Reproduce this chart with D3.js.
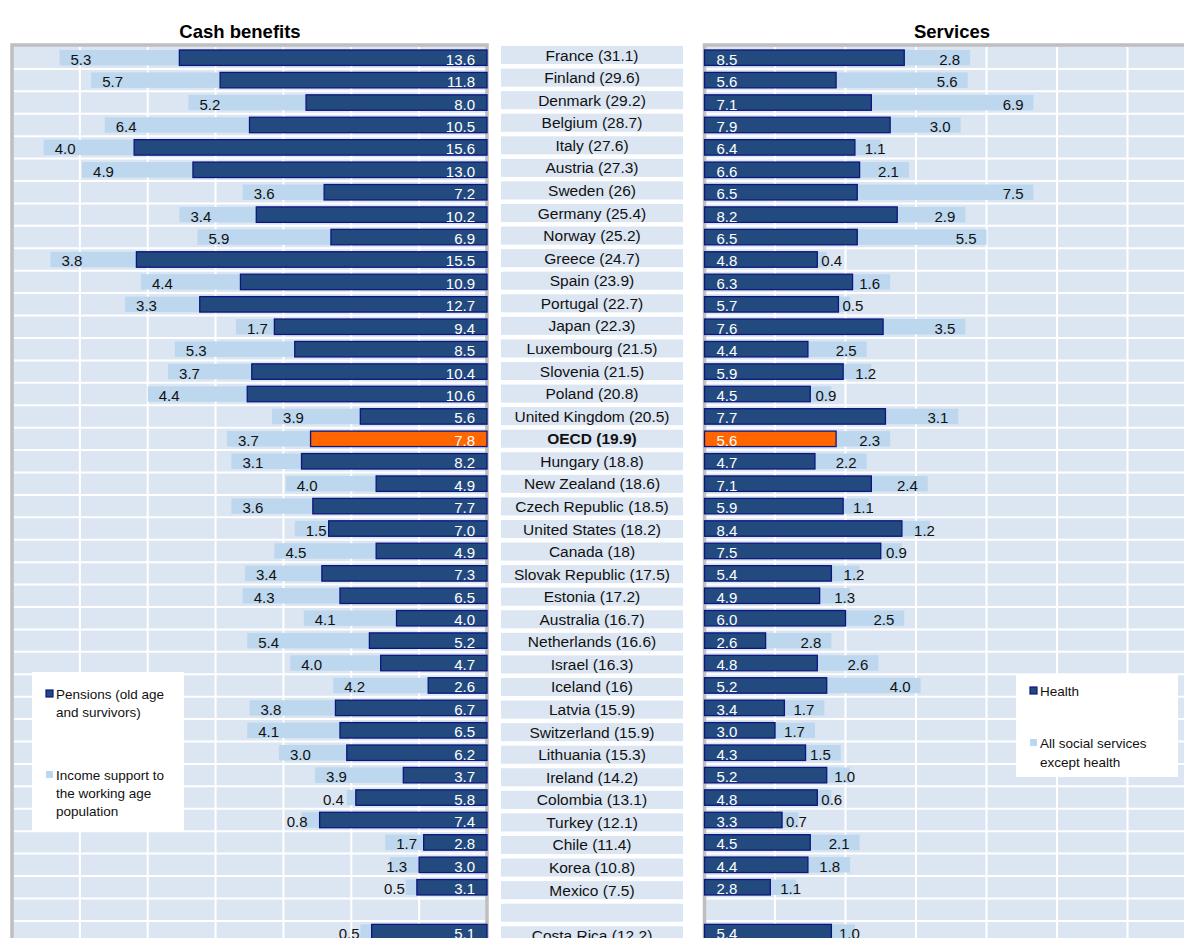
<!DOCTYPE html>
<html>
<head>
<meta charset="UTF-8">
<title>Cash benefits and services</title>
<script src="https://cdn.jsdelivr.net/npm/d3@7/dist/d3.min.js"></script>
<style>
  body { margin: 0; background: #fff; }
  svg text { font-family: "Liberation Sans", Arial, sans-serif; }
</style>
</head>
<body>
<svg id="chart" width="1184" height="938"></svg>
<script>
// categories (the empty one is the gap before Costa Rica)
var categories = ["France (31.1)", "Finland (29.6)", "Denmark (29.2)", "Belgium (28.7)", "Italy (27.6)",
  "Austria (27.3)", "Sweden (26)", "Germany (25.4)", "Norway (25.2)", "Greece (24.7)", "Spain (23.9)",
  "Portugal (22.7)", "Japan (22.3)", "Luxembourg (21.5)", "Slovenia (21.5)", "Poland (20.8)",
  "United Kingdom (20.5)", "OECD (19.9)", "Hungary (18.8)", "New Zealand (18.6)", "Czech Republic (18.5)",
  "United States (18.2)", "Canada (18)", "Slovak Republic (17.5)", "Estonia (17.2)", "Australia (16.7)",
  "Netherlands (16.6)", "Israel (16.3)", "Iceland (16)", "Latvia (15.9)", "Switzerland (15.9)",
  "Lithuania (15.3)", "Ireland (14.2)", "Colombia (13.1)", "Turkey (12.1)", "Chile (11.4)", "Korea (10.8)",
  "Mexico (7.5)", "", "Costa Rica (12.2)"];

// cash benefits
var pensions = [13.6, 11.8, 8.0, 10.5, 15.6, 13.0, 7.2, 10.2, 6.9, 15.5, 10.9, 12.7, 9.4, 8.5, 10.4, 10.6,
  5.6, 7.8, 8.2, 4.9, 7.7, 7.0, 4.9, 7.3, 6.5, 4.0, 5.2, 4.7, 2.6, 6.7, 6.5, 6.2, 3.7, 5.8, 7.4, 2.8, 3.0, 3.1, null, 5.1];
var incomeSupport = [5.3, 5.7, 5.2, 6.4, 4.0, 4.9, 3.6, 3.4, 5.9, 3.8, 4.4, 3.3, 1.7, 5.3, 3.7, 4.4,
  3.9, 3.7, 3.1, 4.0, 3.6, 1.5, 4.5, 3.4, 4.3, 4.1, 5.4, 4.0, 4.2, 3.8, 4.1, 3.0, 3.9, 0.4, 0.8, 1.7, 1.3, 0.5, null, 0.5];

// services
var health = [8.5, 5.6, 7.1, 7.9, 6.4, 6.6, 6.5, 8.2, 6.5, 4.8, 6.3, 5.7, 7.6, 4.4, 5.9, 4.5,
  7.7, 5.6, 4.7, 7.1, 5.9, 8.4, 7.5, 5.4, 4.9, 6.0, 2.6, 4.8, 5.2, 3.4, 3.0, 4.3, 5.2, 4.8, 3.3, 4.5, 4.4, 2.8, null, 5.4];
var socialServices = [2.8, 5.6, 6.9, 3.0, 1.1, 2.1, 7.5, 2.9, 5.5, 0.4, 1.6, 0.5, 3.5, 2.5, 1.2, 0.9,
  3.1, 2.3, 2.2, 2.4, 1.1, 1.2, 0.9, 1.2, 1.3, 2.5, 2.8, 2.6, 4.0, 1.7, 1.7, 1.5, 1.0, 0.6, 0.7, 2.1, 1.8, 1.1, null, 1.0];

var xTicks = [0, 3, 6, 9, 12, 15, 18, 21];
var highlight = "OECD (19.9)";

var titles = ["Cash benefits", "Services"];
var legendLeft = [["Pensions (old age", "and survivors)"], ["Income support to", "the working age", "population"]];
var legendRight = [["Health"], ["All social services", "except health"]];

// colours
var dark = "#234a7e", darkEdge = "#0c1680", light = "#bdd7ee", plotBg = "#dce6f2", orange = "#ff6600";

var svg = d3.select("#chart");
var idx = d3.range(categories.length);

// scales
var xL = d3.scaleLinear().domain([0, 21]).range([487, 12]);
var xR = d3.scaleLinear().domain([0, 21]).range([704.5, 704.5 + 21 * 23.5]);
var yRow = d3.scaleBand().domain(idx).range([46.5, 943.3]);
var y = d3.scaleBand().domain(idx).range([46.5, 943.3]).paddingInner(0.31).paddingOuter(0.155);
var yMid = d3.scaleBand().domain(idx).range([46, 944.3]).paddingInner(0.2).paddingOuter(0);

function labelY(i) { return y(i) + y.bandwidth() / 2 + 7; }

// plot backgrounds with grey frame
function panel(x0, x1) {
  svg.append("rect")
    .attr("x", x0).attr("y", 45)
    .attr("width", x1 - x0).attr("height", 940)
    .attr("fill", plotBg)
    .attr("stroke", "#bfbfbf")
    .attr("stroke-width", 3.5);
}
panel(xL(21), xL(0));
panel(xR(0), xR(21));

// grid lines
function grid(x, xa, xb) {
  svg.append("g").selectAll("line")
    .data(xTicks.slice(1, -1))
    .enter().append("line")
    .attr("x1", function(d) { return x(d); })
    .attr("x2", function(d) { return x(d); })
    .attr("y1", 47).attr("y2", 938)
    .attr("stroke", "#fff").attr("stroke-width", 2);
  svg.append("g").selectAll("line")
    .data(idx.slice(1))
    .enter().append("line")
    .attr("x1", xa).attr("x2", xb)
    .attr("y1", function(i) { return yRow(i); })
    .attr("y2", function(i) { return yRow(i); })
    .attr("stroke", "#fff").attr("stroke-width", 2);
}
grid(xL, xL(21) + 2, xL(0) - 2);
grid(xR, xR(0) + 2, 1184);

var rows = idx.filter(function(i) { return pensions[i] != null; });

// left panel: cash benefits (reversed)
svg.append("g").selectAll("rect")
  .data(rows).enter().append("rect")
  .attr("x", function(i) { return xL(pensions[i] + incomeSupport[i]); })
  .attr("y", function(i) { return y(i); })
  .attr("width", function(i) { return xL(pensions[i]) - xL(pensions[i] + incomeSupport[i]); })
  .attr("height", y.bandwidth())
  .attr("fill", light);

svg.append("g").selectAll("rect")
  .data(rows).enter().append("rect")
  .attr("x", function(i) { return xL(pensions[i]); })
  .attr("y", function(i) { return y(i); })
  .attr("width", function(i) { return xL(0) - xL(pensions[i]); })
  .attr("height", y.bandwidth())
  .attr("fill", function(i) { return categories[i] == highlight ? orange : dark; })
  .attr("stroke", darkEdge).attr("stroke-width", 1.3);

svg.append("g").selectAll("text")
  .data(rows).enter().append("text")
  .attr("x", xL(0) - 12)
  .attr("y", labelY)
  .attr("text-anchor", "end")
  .attr("font-size", 15)
  .attr("fill", "#fff")
  .text(function(i) { return pensions[i].toFixed(1); });

svg.append("g").selectAll("text")
  .data(rows).enter().append("text")
  .each(function(i) {
    var a = xL(pensions[i] + incomeSupport[i]), b = xL(pensions[i]);
    var wide = b - a >= 30;
    d3.select(this)
      .attr("x", wide ? a + 11 : b - 12)
      .attr("text-anchor", wide ? "start" : "end");
  })
  .attr("y", labelY)
  .attr("font-size", 15)
  .attr("fill", "#111")
  .text(function(i) { return incomeSupport[i].toFixed(1); });

// right panel: services
svg.append("g").selectAll("rect")
  .data(rows).enter().append("rect")
  .attr("x", function(i) { return xR(health[i]); })
  .attr("y", function(i) { return y(i); })
  .attr("width", function(i) { return xR(health[i] + socialServices[i]) - xR(health[i]); })
  .attr("height", y.bandwidth())
  .attr("fill", light);

svg.append("g").selectAll("rect")
  .data(rows).enter().append("rect")
  .attr("x", xR(0))
  .attr("y", function(i) { return y(i); })
  .attr("width", function(i) { return xR(health[i]) - xR(0); })
  .attr("height", y.bandwidth())
  .attr("fill", function(i) { return categories[i] == highlight ? orange : dark; })
  .attr("stroke", darkEdge).attr("stroke-width", 1.3);

svg.append("g").selectAll("text")
  .data(rows).enter().append("text")
  .attr("x", xR(0) + 12)
  .attr("y", labelY)
  .attr("font-size", 15)
  .attr("fill", "#fff")
  .text(function(i) { return health[i].toFixed(1); });

svg.append("g").selectAll("text")
  .data(rows).enter().append("text")
  .each(function(i) {
    var a = xR(health[i]), b = xR(health[i] + socialServices[i]);
    var wide = b - a >= 35;
    d3.select(this)
      .attr("x", wide ? b - 10 : Math.max(a + 4, b - 16))
      .attr("text-anchor", wide ? "end" : "start");
  })
  .attr("y", labelY)
  .attr("font-size", 15)
  .attr("fill", "#111")
  .text(function(i) { return socialServices[i].toFixed(1); });

// middle column of country labels
var mid = svg.append("g");
mid.selectAll("rect")
  .data(idx).enter().append("rect")
  .attr("x", 501).attr("width", 182)
  .attr("y", function(i) { return yMid(i); })
  .attr("height", yMid.bandwidth())
  .attr("fill", plotBg);
mid.selectAll("text")
  .data(idx).enter().append("text")
  .attr("x", 592)
  .attr("y", function(i) { return yMid(i) + yMid.bandwidth() / 2 + 5.5; })
  .attr("text-anchor", "middle")
  .attr("font-size", 15.5)
  .attr("font-weight", function(i) { return categories[i] == highlight ? "bold" : "normal"; })
  .attr("fill", "#111")
  .text(function(i) { return categories[i]; });

// titles
svg.append("text").attr("x", 240).attr("y", 38).attr("text-anchor", "middle")
  .attr("font-size", 18.5).attr("font-weight", "bold").text(titles[0]);
svg.append("text").attr("x", 952).attr("y", 38).attr("text-anchor", "middle")
  .attr("font-size", 18.5).attr("font-weight", "bold").text(titles[1]);

// legends
function legend(x, y0, w, h, items, tops, lh) {
  var g = svg.append("g");
  g.append("rect").attr("x", x).attr("y", y0).attr("width", w).attr("height", h).attr("fill", "#fff");
  items.forEach(function(lines, k) {
    var top = tops[k];
    g.append("rect").attr("x", x + 14).attr("y", top - 5).attr("width", 7).attr("height", 7)
      .attr("fill", k == 0 ? dark : light)
      .attr("stroke", k == 0 ? darkEdge : "none").attr("stroke-width", 1.2);
    lines.forEach(function(t, j) {
      g.append("text").attr("x", x + 24).attr("y", top + 4 + j * lh)
        .attr("font-size", 13.5).attr("fill", "#111").text(t);
    });
  });
}
legend(32, 672, 152, 160, legendLeft, [695, 776], 18);
legend(1016, 674, 162, 103, legendRight, [692, 744], 19);
</script>
</body>
</html>
